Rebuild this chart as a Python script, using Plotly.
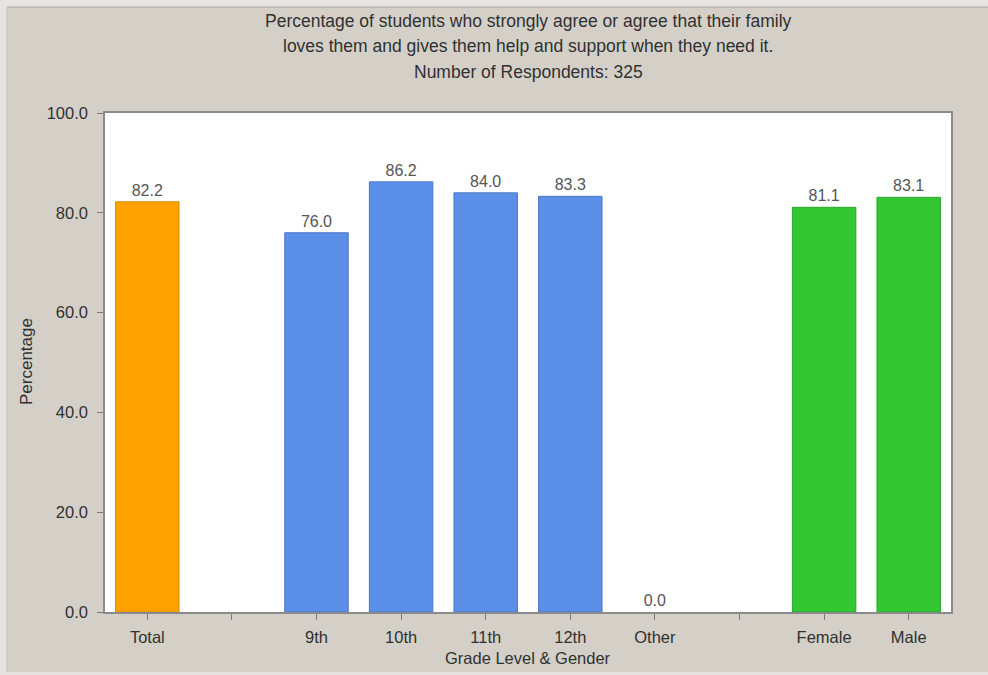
import plotly.graph_objects as go

# Category slots; empty strings are the divider slots between groups
tick_labels = ["Total", "", "9th", "10th", "11th", "12th", "Other", "", "Female", "Male"]

categories = ["Total", "9th", "10th", "11th", "12th", "Other", "Female", "Male"]
percentages = [82.2, 76.0, 86.2, 84.0, 83.3, 0.0, 81.1, 83.1]
groups = ["total", "grade", "grade", "grade", "grade", "grade", "gender", "gender"]

fill_colors = {"total": "#FFA200", "grade": "#5B8FE8", "gender": "#33C833"}
line_colors = {"total": "#D88A00", "grade": "#4A76C4", "gender": "#2AA52A"}

slot_of = {name: tick_labels.index(name) for name in categories}
xs = [slot_of[c] for c in categories]

title_lines = [
    "Percentage of students who strongly agree or agree that their family",
    "loves them and gives them help and support when they need it.",
    "Number of Respondents: 325",
]

W, H = 988, 675
L, R, T, B = 105, 951, 113, 612


def px_x(p):
    return (p - L) / (R - L)


def px_y(p):
    return (B - p) / (B - T)


font = "Liberation Sans, Arial, sans-serif"
text_color = "#303030"

fig = go.Figure(
    go.Bar(
        x=xs,
        y=percentages,
        width=0.75,
        marker=dict(
            color=[fill_colors[g] for g in groups],
            line=dict(
                color=[line_colors[g] for g in groups],
                width=[1 if v > 0 else 0 for v in percentages],
            ),
        ),
        text=[f"{v:.1f}" for v in percentages],
        textposition="outside",
        textfont=dict(family=font, size=16, color="#555555"),
        cliponaxis=False,
        hoverinfo="skip",
    )
)

annotations = []
for line, py in zip(title_lines, [21, 46, 72]):
    annotations.append(dict(
        text=line, x=px_x(528), y=px_y(py), xref="paper", yref="paper",
        xanchor="center", yanchor="middle", showarrow=False,
        font=dict(family=font, size=17.5, color=text_color),
    ))
annotations.append(dict(
    text="Percentage", x=px_x(26), y=px_y(362), xref="paper", yref="paper",
    xanchor="center", yanchor="middle", textangle=-90, showarrow=False,
    font=dict(family=font, size=17, color=text_color),
))
annotations.append(dict(
    text="Grade Level & Gender", x=px_x(528), y=px_y(658), xref="paper", yref="paper",
    xanchor="center", yanchor="middle", showarrow=False,
    font=dict(family=font, size=16.5, color=text_color),
))

# Light frame around the gray panel
frame = "#E6E4E0"
shapes = [
    dict(type="rect", xref="paper", yref="paper", x0=px_x(0), x1=px_x(7), y0=px_y(H), y1=px_y(0),
         fillcolor=frame, line=dict(width=0), layer="below"),
    dict(type="rect", xref="paper", yref="paper", x0=px_x(0), x1=px_x(W), y0=px_y(7), y1=px_y(0),
         fillcolor=frame, line=dict(width=0), layer="below"),
    dict(type="rect", xref="paper", yref="paper", x0=px_x(0), x1=px_x(W), y0=px_y(H), y1=px_y(672),
         fillcolor=frame, line=dict(width=0), layer="below"),
    dict(type="line", xref="paper", yref="paper", x0=px_x(7), x1=px_x(W), y0=px_y(7), y1=px_y(7),
         line=dict(color="#A9A6A0", width=1)),
    dict(type="line", xref="paper", yref="paper", x0=px_x(7), x1=px_x(7), y0=px_y(7), y1=px_y(672),
         line=dict(color="#C4C1BB", width=1)),
]

fig.update_layout(
    width=W, height=H,
    margin=dict(l=L, r=W - R, t=T, b=H - B, pad=0),
    paper_bgcolor="#D4D0C8",
    plot_bgcolor="#FFFFFF",
    showlegend=False,
    annotations=annotations,
    shapes=shapes,
    font=dict(family=font, size=16, color=text_color),
    xaxis=dict(
        range=[-0.5, 9.5],
        tickmode="array",
        tickvals=list(range(len(tick_labels))),
        ticktext=tick_labels,
        ticks="outside", ticklen=6, tickcolor="#7A7A7A", tickwidth=1,
        showgrid=False, zeroline=False,
        showline=True, linecolor="#8A8A8A", linewidth=1.5, mirror=True,
        tickfont=dict(family=font, size=16.5, color=text_color),
        ticklabelstandoff=3,
        fixedrange=True,
    ),
    yaxis=dict(
        range=[0, 100],
        tickmode="array",
        tickvals=[0, 20, 40, 60, 80, 100],
        tickformat=".1f",
        ticks="outside", ticklen=6, tickcolor="#7A7A7A", tickwidth=1,
        showgrid=False, zeroline=False,
        showline=True, linecolor="#8A8A8A", linewidth=1.5, mirror=True,
        tickfont=dict(family=font, size=16.5, color=text_color),
        ticklabelstandoff=6,
        fixedrange=True,
    ),
    bargap=0.25,
)

fig.write_html("out.html", config={"displayModeBar": False})
